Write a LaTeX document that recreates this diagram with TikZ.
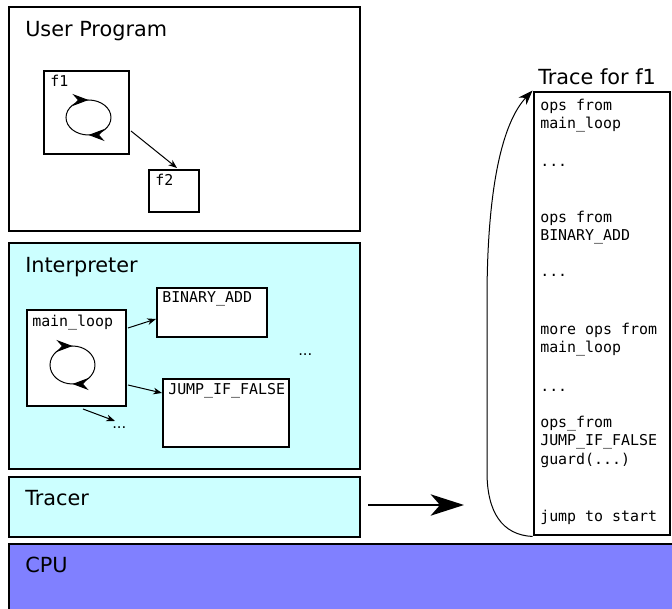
\documentclass[tikz,border=0pt]{standalone}
\usepackage{fontspec}
\setmainfont{DejaVu Sans}
\setmonofont{DejaVu Sans Mono}
\usetikzlibrary{fit,calc,arrows.meta,decorations.markings}
\definecolor{interpfill}{HTML}{CCFFFF}
\definecolor{cpufill}{HTML}{8080FF}
% one unit = one pixel, y grows downwards
\tikzset{
  x=0.75pt, y=-0.75pt,
  layer/.style={draw, line width=2.2pt, inner sep=0pt},
  fnbox/.style={draw, fill=white, line width=1.5pt, inner sep=0pt},
  heading/.style={anchor=base west, inner sep=0pt, font=\fontsize{15.6}{18}\selectfont},
  code/.style={anchor=base west, inner sep=0pt, font=\ttfamily\fontsize{11.2}{13.5}\selectfont},
  dots/.style={anchor=base west, inner sep=0pt, font=\fontsize{11}{13}\selectfont},
  call/.style={line width=0.75pt, -{Stealth[length=6.5pt,width=5pt,inset=2pt]}},
  cycle arrows/.style={line width=0.75pt, postaction={decorate},
    decoration={markings,
      mark=at position 0.25 with {\arrow{Stealth[length=12pt,width=9pt,inset=4pt]}},
      mark=at position 0.75 with {\arrow{Stealth[length=12pt,width=9pt,inset=4pt]}}}},
}
\newcommand{\loopmark}[4]{% centre x, centre y, x radius, y radius
  \draw[cycle arrows] (#1+#3,#2) arc[start angle=0, end angle=360, x radius=#3, y radius=#4];}
\newcommand{\elided}{...}
\begin{document}
\begin{tikzpicture}
\useasboundingbox (0,0) rectangle (672,609);
\clip (0,0) rectangle (672,609);

% ---- user program layer ----
\node[layer, fill=white, fit={(9,7) (360,231)}] (user) {};
\node[heading] (userlbl) at (25,37) {User Program};
\node[fnbox, fit={(44,71) (129,154)}] (f1) {};
\node[code] (f1lbl) at (50,87) {f1};
\loopmark{88.5}{117.5}{22.5}{17.5}
\node[fnbox, fit={(149,170) (199,212)}] (f2) {};
\node[code] (f2lbl) at (155,186) {f2};
\draw[call] ($(f1.south east)+(1,-24)$) -- ($(f2.north)+(3,-1)$);

% ---- interpreter layer ----
\node[layer, fill=interpfill, fit={(9,243) (360,469)}] (interp) {};
\node[heading] (interplbl) at (25,273) {Interpreter};
\node[fnbox, fit={(27,310) (126,406)}] (ml) {};
\node[code] (mllbl) at (32,327) {main\_loop};
\loopmark{72.5}{365}{22.5}{19}
\node[fnbox, fit={(157,288) (267,337)}] (badd) {};
\node[code] (baddlbl) at (162,303) {BINARY\_ADD};
\node[fnbox, fit={(163,379) (289,447)}] (jump) {};
\node[code] (jumplbl) at (168,395) {JUMP\_IF\_FALSE};
\node[dots] (moredots) at (298,356) {\elided};
\coordinate (otherops) at (115,421);
\node[dots] (otherdots) at (112,429) {\elided};
\draw[call] ($(ml.north east)+(1,19)$) -- ($(badd.north west)+(0,32)$);
\draw[call] ($(ml.north east)+(1,76)$) -- ($(jump.north west)+(0,15)$);
\draw[call] ($(ml.south west)+(57,2)$) -- (otherops);

% ---- tracer layer ----
\node[layer, fill=interpfill, fit={(9,477) (360,537)}] (tracer) {};
\node[heading] (tracerlbl) at (25,506) {Tracer};
\coordinate (recorded) at (464,505);
\draw[line width=1.5pt, -{Stealth[length=25pt,width=16pt,inset=7pt]}]
  ($(tracer.east)+(7,-2)$) -- (recorded);

% ---- cpu layer ----
\node[layer, fill=cpufill, fit={(9,544) (690,630)}] (cpu) {};
\node[heading] (cpulbl) at (25,573) {CPU};

% ---- recorded trace ----
\node[layer, fill=white, fit={(534,92) (670,535)}] (trace) {};
\node[heading] (tracetitle) at (538,85) {Trace for f1};
\foreach \yy/\txt [count=\i] in {
    111/ops from, 129/main\_loop, 167/\elided, 223/ops from, 241/BINARY\_ADD,
    277/\elided, 335/more ops from, 353/main\_loop, 392/\elided,
    428/ops\_from, 446/JUMP\_IF\_FALSE, 465/guard(\elided), 522/jump to start}
  \node[code] (op\i) at (540,\yy) {\txt};
\draw[line width=0.75pt, -{Stealth[length=11pt,width=8pt,inset=3.5pt]}]
  (trace.south west) .. controls (502,535) and (487,512) .. (487,472)
  -- (487,300) .. controls (487,185) and (503,122) .. (trace.north west);
\end{tikzpicture}
\end{document}
